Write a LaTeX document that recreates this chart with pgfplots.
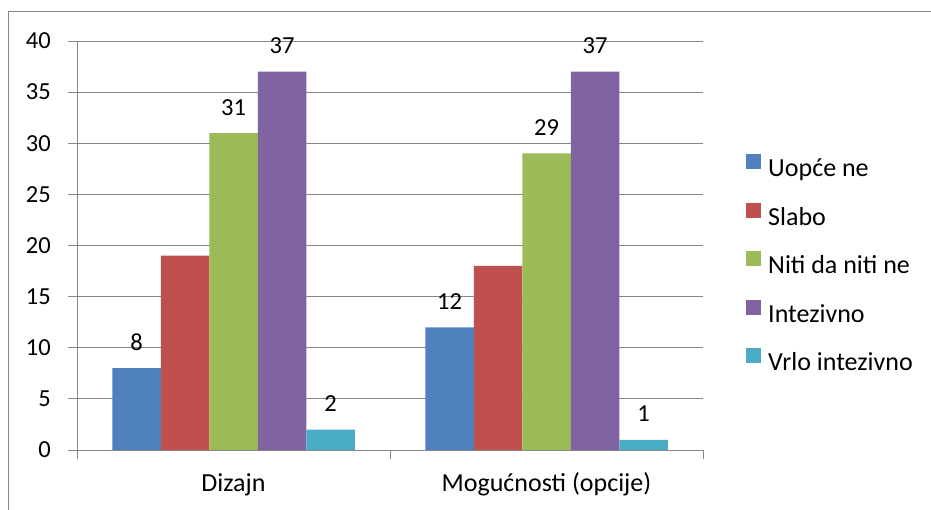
\documentclass[border=0pt]{standalone}
\usepackage{fontspec}
\setmainfont{Carlito}
\usepackage{pgfplots}
\pgfplotsset{compat=1.18}
\definecolor{c1}{HTML}{4F81BD}
\definecolor{c2}{HTML}{C0504D}
\definecolor{c3}{HTML}{9BBB59}
\definecolor{c4}{HTML}{8064A2}
\definecolor{c5}{HTML}{4BACC6}
\definecolor{gridgray}{HTML}{868686}
\newcommand{\numfont}{\fontsize{24.5}{29}\selectfont}
\newcommand{\txtfont}{\fontsize{26}{31}\selectfont}
\begin{document}
\begin{tikzpicture}[font=\txtfont]
\begin{axis}[
  at={(77pt,-450pt)}, anchor=south west,
  scale only axis, width=626pt, height=409pt,
  xmin=-0.5, xmax=1.5, ymin=0, ymax=40,
  ybar=0pt, bar width=48.5pt,
  axis lines*=left,
  axis line style={gridgray, line width=1pt, -},
  ytick={0,5,...,40},
  ymajorgrids, grid style={gridgray, line width=1pt},
  tick align=outside, major tick length=9pt,
  tick style={gridgray, line width=1pt},
  xtick={-0.5,0.5,1.5}, xticklabels={},
  extra x ticks={0,1},
  extra x tick labels={Dizajn, Mogućnosti (opcije)},
  extra x tick style={major tick length=0pt, xticklabel style={anchor=base, yshift=-41pt, font=\txtfont}},
  every tick label/.append style={font=\numfont, text=black},
  /pgf/number format/assume math mode=true,
  yticklabel style={anchor=east, inner sep=0pt, xshift=-17pt},
  every node near coord/.append style={anchor=base, yshift=18pt, inner sep=0pt, text=black, font=\numfont},
  legend style={draw=none, fill=none, inner sep=0pt, at={(axis description cs:1.06869,0.7237)}, anchor=north west,
    nodes={inner sep=0pt, text height=15pt, text depth=0pt, text=black, font=\txtfont},
    row sep=26pt, column sep=7pt},
  legend cell align=left,
  legend image code/.code={\fill[#1] (0pt,0pt) rectangle (15pt,15pt);},
]
\addplot[fill=c1, draw=none, nodes near coords] coordinates {(0,8) (1,12)};
\addplot[fill=c2, draw=none] coordinates {(0,19) (1,18)};
\addplot[fill=c3, draw=none, nodes near coords] coordinates {(0,31) (1,29)};
\addplot[fill=c4, draw=none, nodes near coords] coordinates {(0,37) (1,37)};
\addplot[fill=c5, draw=none, nodes near coords] coordinates {(0,2) (1,1)};
\legend{Uopće ne, Slabo, Niti da niti ne, Intezivno, Vrlo intezivno}
\end{axis}
\draw[gridgray, line width=1pt] (8pt,-520pt) -- (8pt,-12pt) -- (940pt,-12pt);
\pgfresetboundingbox
\path (0pt,0pt) rectangle (931pt,-510pt);
\end{tikzpicture}
\end{document}
